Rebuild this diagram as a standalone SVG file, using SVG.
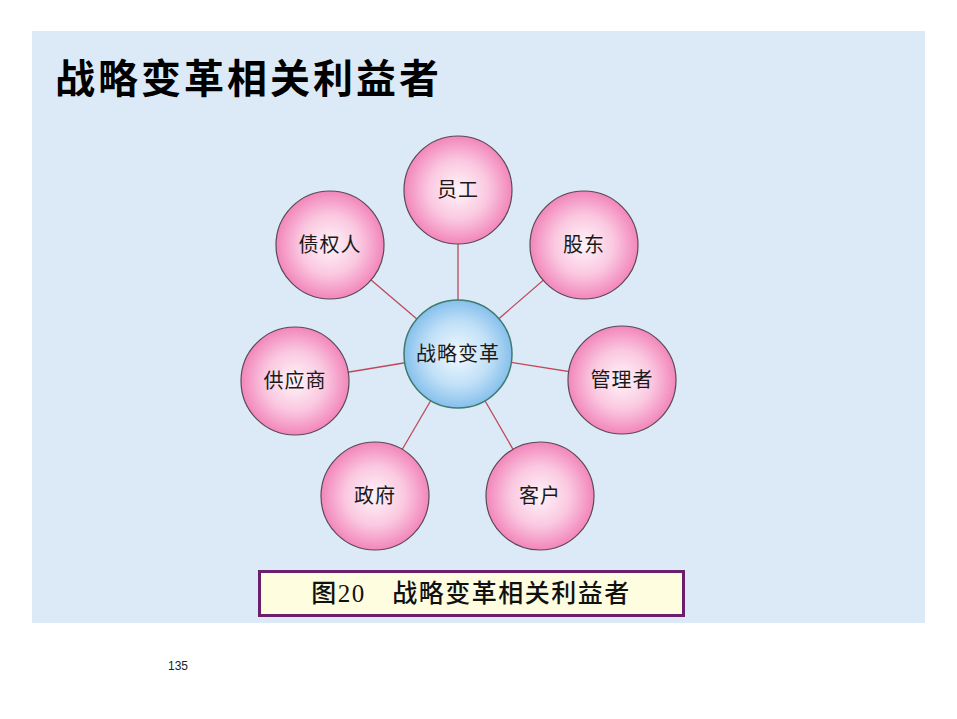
<svg xmlns="http://www.w3.org/2000/svg" width="957" height="719" viewBox="0 0 957 719">
<style>
.pn{fill:url(#pink);stroke:#5a4a52;stroke-width:1.2}
.cn{fill:url(#blue);stroke:#3f7a6e;stroke-width:1.5}
.lb{font-family:"Liberation Serif","Noto Sans CJK SC",serif;font-size:20px;fill:#1a1a1a;text-anchor:middle;letter-spacing:1px}
.cx line{stroke:#c0485a;stroke-width:1.3}
</style>
<defs>
<radialGradient id="pink" cx="50%" cy="50%" r="50%">
<stop offset="0" stop-color="#fff4f9"/>
<stop offset="0.55" stop-color="#fac8e0"/>
<stop offset="1" stop-color="#f286bb"/>
</radialGradient>
<radialGradient id="blue" cx="50%" cy="50%" r="50%">
<stop offset="0" stop-color="#f2f9fe"/>
<stop offset="0.6" stop-color="#bfdff7"/>
<stop offset="1" stop-color="#86c0ec"/>
</radialGradient>
</defs>
<rect x="0" y="0" width="957" height="719" fill="#ffffff"/>
<rect x="32" y="31" width="893" height="592" fill="#dbeaf6"/>
<text x="55" y="93" font-family="'Liberation Serif','Noto Sans CJK SC',serif" font-size="40" font-weight="bold" letter-spacing="3" fill="#000">战略变革相关利益者</text>
<g class="cx" id="connectors">
<line x1="458" y1="354" x2="458" y2="190"/>
<line x1="458" y1="354" x2="584" y2="245"/>
<line x1="458" y1="354" x2="622" y2="380"/>
<line x1="458" y1="354" x2="540" y2="496"/>
<line x1="458" y1="354" x2="375" y2="496"/>
<line x1="458" y1="354" x2="295" y2="381"/>
<line x1="458" y1="354" x2="330" y2="245"/>
</g>
<g id="n-yuangong"><circle class="pn" cx="458" cy="190" r="54"/><text class="lb" x="458" y="197">员工</text></g>
<g id="n-gudong"><circle class="pn" cx="584" cy="245" r="54"/><text class="lb" x="584" y="252">股东</text></g>
<g id="n-guanlizhe"><circle class="pn" cx="622" cy="380" r="54"/><text class="lb" x="622" y="387">管理者</text></g>
<g id="n-kehu"><circle class="pn" cx="540" cy="496" r="54"/><text class="lb" x="540" y="503">客户</text></g>
<g id="n-zhengfu"><circle class="pn" cx="375" cy="496" r="54"/><text class="lb" x="375" y="503">政府</text></g>
<g id="n-gongyingshang"><circle class="pn" cx="295" cy="381" r="54"/><text class="lb" x="295" y="388">供应商</text></g>
<g id="n-zhaiquanren"><circle class="pn" cx="330" cy="245" r="54"/><text class="lb" x="330" y="252">债权人</text></g>
<g id="n-center"><circle class="cn" cx="458" cy="354" r="54"/><text class="lb" x="458" y="361">战略变革</text></g>
<g id="caption">
<rect x="259.5" y="571.5" width="424" height="44" fill="#fffde0" stroke="#6b1f6f" stroke-width="3"/>
<text x="471" y="602" font-family="'Liberation Serif','Noto Sans CJK SC',serif" font-size="25" font-weight="500" letter-spacing="1.5" fill="#111" text-anchor="middle">图20　战略变革相关利益者</text>
</g>
<text x="178" y="670" font-family="'Liberation Sans',Arial,sans-serif" font-size="12" fill="#222" text-anchor="middle">135</text>
</svg>
